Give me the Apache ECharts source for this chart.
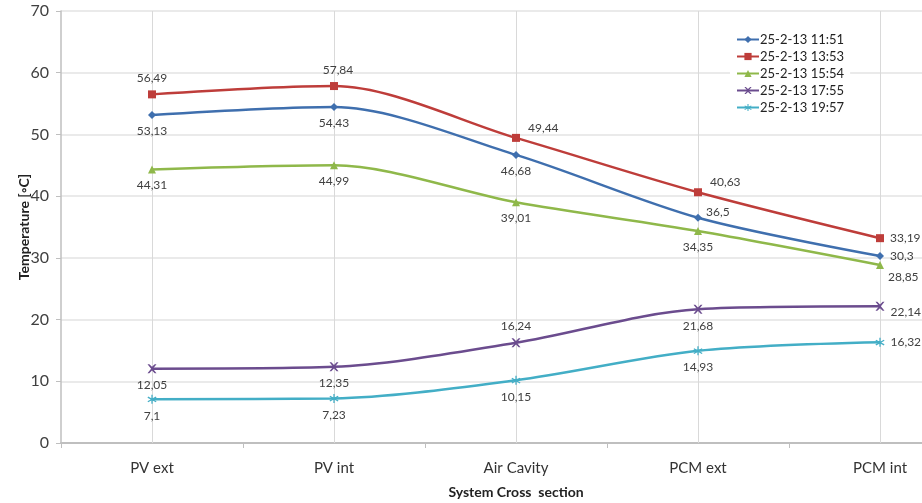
<!DOCTYPE html>
<html><head><meta charset="utf-8">
<script src="https://cdn.jsdelivr.net/npm/echarts@6/dist/echarts.min.js"></script>
<style>html,body{margin:0;padding:0;background:#fff}#c{width:922px;height:503px}</style>
</head><body><div id="c"></div>
<script>
const categories = ['PV ext', 'PV int', 'Air Cavity', 'PCM ext', 'PCM int'];
const seriesNames = ['25-2-13 11:51', '25-2-13 13:53', '25-2-13 15:54', '25-2-13 17:55', '25-2-13 19:57'];
const s1151 = [53.13, 54.43, 46.68, 36.5, 30.3];
const s1353 = [56.49, 57.84, 49.44, 40.63, 33.19];
const s1554 = [44.31, 44.99, 39.01, 34.35, 28.85];
const s1755 = [12.05, 12.35, 16.24, 21.68, 22.14];
const s1957 = [7.1, 7.23, 10.15, 14.93, 16.32];
const yTicks = [0, 10, 20, 30, 40, 50, 60, 70];

const colors = ['#3f6fae', '#be3d3a', '#8fb84a', '#6b4c8e', '#43aec6'];
const xPath = 'path://M0,0L2,0L5,3L8,0L10,0L6,5L10,10L8,10L5,7L2,10L0,10L4,5Z';
const starPath = 'path://M4.3,0H5.7V4.1L9.2,2.1L9.9,3.3L6.4,5.3L9.9,7.3L9.2,8.5L5.7,6.5V10H4.3V6.5L0.8,8.5L0.1,7.3L3.6,5.3L0.1,3.3L0.8,2.1L4.3,4.1Z';
const symbols = ['diamond', 'rect', 'triangle', xPath, starPath];
const symSizes = [8, 8, 8, 9, 9];
const labelPos = [
  [['bottom'], ['bottom'], ['bottom'], ['right', -2, -6], ['right']],
  [['top'], ['top', 4, 0], ['right', 2, -10], ['right', 2, -10], ['right']],
  [['bottom'], ['bottom'], ['bottom'], ['bottom'], ['right', -2, 12]],
  [['bottom'], ['bottom'], ['top'], ['bottom'], ['right', 0, 6]],
  [['bottom'], ['bottom'], ['bottom'], ['bottom'], ['right']]
];
const allData = [s1151, s1353, s1554, s1755, s1957];

const fnt = 'Lato, "Open Sans", sans-serif';
const series = allData.map((vals, i) => ({
  name: seriesNames[i],
  type: 'line',
  smooth: 0.3,
  symbol: symbols[i],
  symbolSize: symSizes[i],
  lineStyle: { width: 2.5, color: colors[i] },
  itemStyle: { color: colors[i] },
  z: 5 + i,
  data: vals.map((v, j) => {
    const p = labelPos[i][j];
    return { value: v, label: { position: p[0], offset: [p[1] || 0, p[2] || 0] } };
  }),
  label: {
    show: true, fontSize: 12, color: '#404040', fontFamily: fnt, distance: 6,
    formatter: (p) => String(p.value).replace('.', ',')
  },
  markLine: i === 0 ? {
    silent: true, symbol: 'none', z: 1,
    label: { show: false },
    lineStyle: { color: '#d9d9d9', width: 1, type: 'solid' },
    data: categories.map(c => ({ xAxis: c }))
  } : undefined
}));

const chart = echarts.init(document.getElementById('c'));
chart.setOption({
  animation: false,
  backgroundColor: '#fff',
  color: colors,
  grid: { left: 61, top: 11, bottom: 60, width: 910, containLabel: false, outerBoundsMode: 'none' },
  legend: {
    orient: 'vertical', left: 730, top: 29,
    backgroundColor: '#fff', padding: [4, 6, 6, 6],
    itemGap: 4, itemWidth: 22, itemHeight: 9,
    textStyle: { fontSize: 13, color: '#222', fontFamily: fnt, padding: [0, 0, 0, -4] },
    data: seriesNames
  },
  xAxis: {
    type: 'category', data: categories, boundaryGap: true,
    name: 'System Cross  section', nameLocation: 'middle', nameGap: 42,
    nameTextStyle: { fontSize: 14, fontWeight: 'bold', color: '#222', fontFamily: fnt },
    axisLine: { lineStyle: { color: '#bfbfbf', width: 2 } },
    axisTick: { show: true, length: 5, lineStyle: { color: '#bfbfbf' } },
    axisLabel: { fontSize: 15, color: '#333', margin: 18, fontFamily: fnt },
    splitLine: { show: false }
  },
  yAxis: {
    type: 'value', min: yTicks[0], max: yTicks[yTicks.length - 1], interval: 10,
    name: 'Temperature [◦C]', nameLocation: 'middle', nameGap: 30, nameRotate: 90,
    nameMoveOverlap: false,
    nameTextStyle: { fontSize: 14, fontWeight: 'bold', color: '#222', fontFamily: fnt },
    axisLine: { show: true, lineStyle: { color: '#bfbfbf', width: 1.5 } },
    axisTick: { show: true, length: 5, lineStyle: { color: '#bfbfbf' } },
    axisLabel: { fontSize: 16, color: '#404040', margin: 12, fontFamily: fnt },
    splitLine: { lineStyle: { color: '#e3e3e3', width: 1.5 } }
  },
  series: series
});
</script></body></html>
